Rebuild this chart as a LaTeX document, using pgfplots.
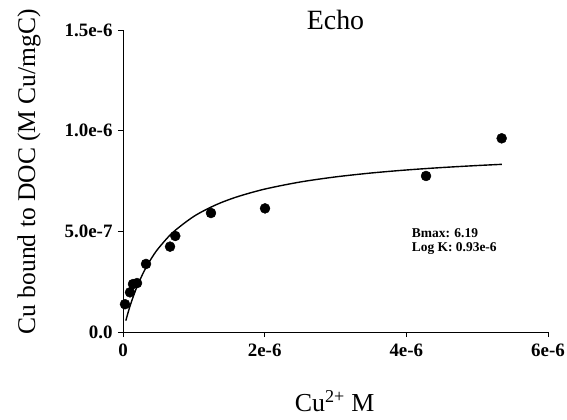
\documentclass[border=0pt]{standalone}
\usepackage{fontspec}
\setmainfont{Liberation Serif}
\usepackage{pgfplots}
\pgfplotsset{compat=1.18}
\begin{document}
\begin{tikzpicture}
\begin{axis}[name=ax,
  scale only axis, width=425bp, height=302bp,
  xmin=0, xmax=6e-6, ymin=0, ymax=1.5e-6,
  axis x line=bottom, axis y line=left,
  axis line style={-, line width=1pt},
  scaled ticks=false,
  xtick={0,2e-6,4e-6,6e-6}, xticklabels={0,2e-6,4e-6,6e-6},
  ytick={0,5e-7,1e-6,1.5e-6}, yticklabels={0.0,5.0e-7,1.0e-6,1.5e-6},
  tick align=outside, major tick length=5bp,
  tick style={line width=1pt, black},
  /pgf/number format/assume math mode=true,
  ticklabel style={font=\fontsize{19}{22}\selectfont\bfseries},
  yticklabel style={xshift=-2bp},
  xticklabel style={yshift=-3bp},
  clip=false,
  title={Echo},
  title style={font=\fontsize{28}{32}\selectfont, at={(axis description cs:0.5,0.983)}, anchor=base},
  xlabel={Cu\textsuperscript{2+} M},
  xlabel style={font=\fontsize{26}{30}\selectfont, at={(axis description cs:0.498,-0.264)}, anchor=base},
  ylabel={Cu bound to DOC (M Cu/mgC)},
  ylabel style={font=\fontsize{25.6}{30}\selectfont, at={(axis description cs:-0.2212,0.531)}, anchor=center, rotate=0},
]
\addplot[only marks, mark=*, mark size=5bp, black] coordinates {
(2.8e-8,1.38e-7) (9.9e-8,1.97e-7) (1.41e-7,2.38e-7) (1.98e-7,2.43e-7)
(3.25e-7,3.38e-7) (6.64e-7,4.24e-7) (7.38e-7,4.77e-7) (1.242e-6,5.91e-7)
(2.005e-6,6.14e-7) (4.278e-6,7.75e-7) (5.346e-6,9.62e-7)
};
\addplot[black, line width=1.4pt, smooth] coordinates {
(0.04e-6,0.0565e-6) (0.08e-6,0.1065e-6) (0.12e-6,0.1511e-6) (0.2e-6,0.2271e-6)
(0.3e-6,0.3036e-6) (0.4e-6,0.3650e-6) (0.5e-6,0.4155e-6) (0.7e-6,0.4934e-6)
(1.0e-6,0.5742e-6) (1.3e-6,0.6297e-6) (1.6e-6,0.6702e-6) (2.0e-6,0.7097e-6)
(2.5e-6,0.7449e-6) (3.0e-6,0.7703e-6) (3.5e-6,0.7896e-6) (4.0e-6,0.8047e-6)
(4.5e-6,0.8168e-6) (5.0e-6,0.8268e-6) (5.35e-6,0.8328e-6)
};
\node[anchor=base west, font=\fontsize{13.5}{15}\selectfont\bfseries, inner sep=0pt] at (axis cs:4.076e-6,4.67e-7) {Bmax: 6.19};
\node[anchor=base west, font=\fontsize{13.5}{15}\selectfont\bfseries, inner sep=0pt] at (axis cs:4.076e-6,3.99e-7) {Log K: 0.93e-6};
\end{axis}
\pgfresetboundingbox
\path (ax.south west) ++(-123bp,-88bp) rectangle ++(567bp,420bp);
\end{tikzpicture}
\end{document}
